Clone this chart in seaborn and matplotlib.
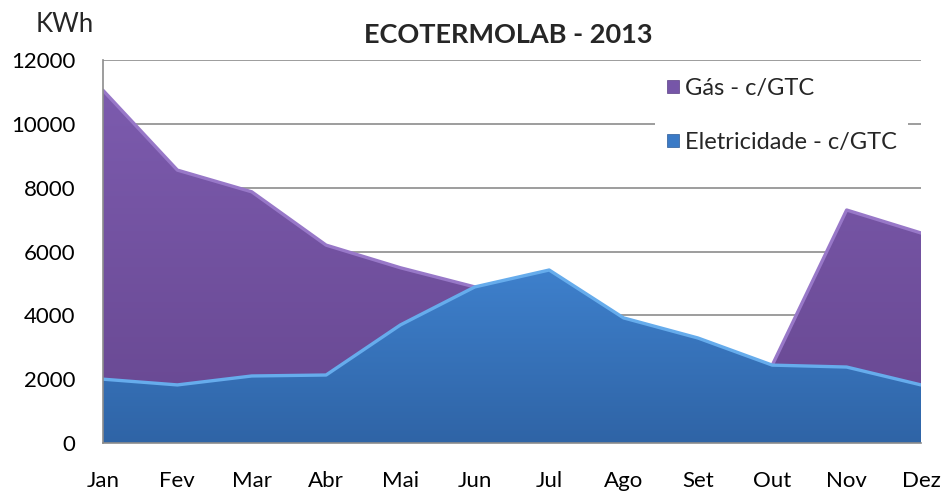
import matplotlib
matplotlib.use("Agg")
import matplotlib.pyplot as plt
import numpy as np
import pandas as pd
import seaborn as sns
from matplotlib.colors import LinearSegmentedColormap
from matplotlib.patches import Patch

# values (KWh per month, 2013)
months = ["Jan", "Fev", "Mar", "Abr", "Mai", "Jun",
          "Jul", "Ago", "Set", "Out", "Nov", "Dez"]
gas = [11050, 8550, 7870, 6200, 5490, 4890, 0, 0, 0, 2440, 7300, 6580]
eletricidade = [2000, 1820, 2100, 2130, 3700, 4890,
                5420, 3920, 3290, 2440, 2380, 1820]
series_names = ["Gás - c/GTC", "Eletricidade - c/GTC"]
y_ticks = [0, 2000, 4000, 6000, 8000, 10000, 12000]

df = pd.DataFrame({"mes": months, "x": np.arange(len(months)),
                   "gas": gas, "ele": eletricidade})

sns.set_style("white")
plt.rcParams["font.family"] = ["Lato", "DejaVu Sans"]

fig = plt.figure(figsize=(9.44, 4.91), dpi=100)
ax = fig.add_axes([103 / 944, 1 - 443 / 491, 818 / 944, 383 / 491])

GRID = "#8c8c8c"


def gradient_area(ax, x, y, top, bottom, edge, z):
    """Area with a vertical gradient fill and a light bevel edge on top."""
    poly = ax.fill_between(x, 0, y, facecolor="none", edgecolor="none",
                           zorder=z)
    cmap = LinearSegmentedColormap.from_list("g", [bottom, top])
    grad = np.linspace(0, 1, 256).reshape(-1, 1)
    im = ax.imshow(grad, cmap=cmap, aspect="auto", origin="lower",
                   extent=[x.min(), x.max(), 0, max(y)], zorder=z,
                   interpolation="bilinear")
    im.set_clip_path(poly.get_paths()[0], transform=ax.transData)
    sns.lineplot(x=x, y=y, ax=ax, color=edge, lw=2.4, zorder=z + 0.1,
                 solid_joinstyle="round", legend=False)


gradient_area(ax, df["x"].to_numpy(), df["gas"].to_numpy(),
              "#7c5bae", "#674790", "#9878c8", 2)
gradient_area(ax, df["x"].to_numpy(), df["ele"].to_numpy(),
              "#3e80cc", "#2f64a6", "#66acec", 3)

ax.set_xlim(0, len(months) - 1)
ax.set_ylim(0, 12000)
ax.set_xticks(df["x"])
ax.set_xticklabels(months)
ax.set_yticks(y_ticks)
ax.set_yticklabels([str(v) for v in y_ticks])
ax.yaxis.grid(True, color=GRID, lw=1.2, zorder=0)
ax.set_axisbelow(True)
ax.tick_params(axis="both", labelsize=16, colors=GRID, labelcolor="black",
               length=7, width=1.2, direction="out")
ax.tick_params(axis="x", pad=13)
ax.tick_params(axis="y", pad=13)
for side in ["top", "right"]:
    ax.spines[side].set_visible(False)
for side in ["left", "bottom"]:
    ax.spines[side].set_color(GRID)
    ax.spines[side].set_linewidth(1.2)
    ax.spines[side].set_zorder(5)

fig.text(508 / 944, 1 - 35 / 491, "ECOTERMOLAB - 2013", ha="center",
         va="center", fontsize=19.5, fontweight="bold")
fig.text(65 / 944, 1 - 25 / 491, "KWh", ha="center", va="center",
         fontsize=18.5)

handles = [Patch(facecolor="#7656a8", edgecolor="#5a3f85", lw=0.5),
           Patch(facecolor="#3a7ac6", edgecolor="#2a5a96", lw=0.5)]
leg = ax.legend(handles, series_names, loc="upper left",
                bbox_to_anchor=(655 / 944, 1 - 66 / 491),
                bbox_transform=fig.transFigure, fontsize=17,
                frameon=True, facecolor="white", edgecolor="none",
                framealpha=1, fancybox=False, handlelength=0.5,
                handleheight=0.5, handletextpad=0.25, labelspacing=1.4,
                borderpad=0.5, borderaxespad=0)
leg.set_zorder(1)

fig.savefig("out.png", dpi=100)
